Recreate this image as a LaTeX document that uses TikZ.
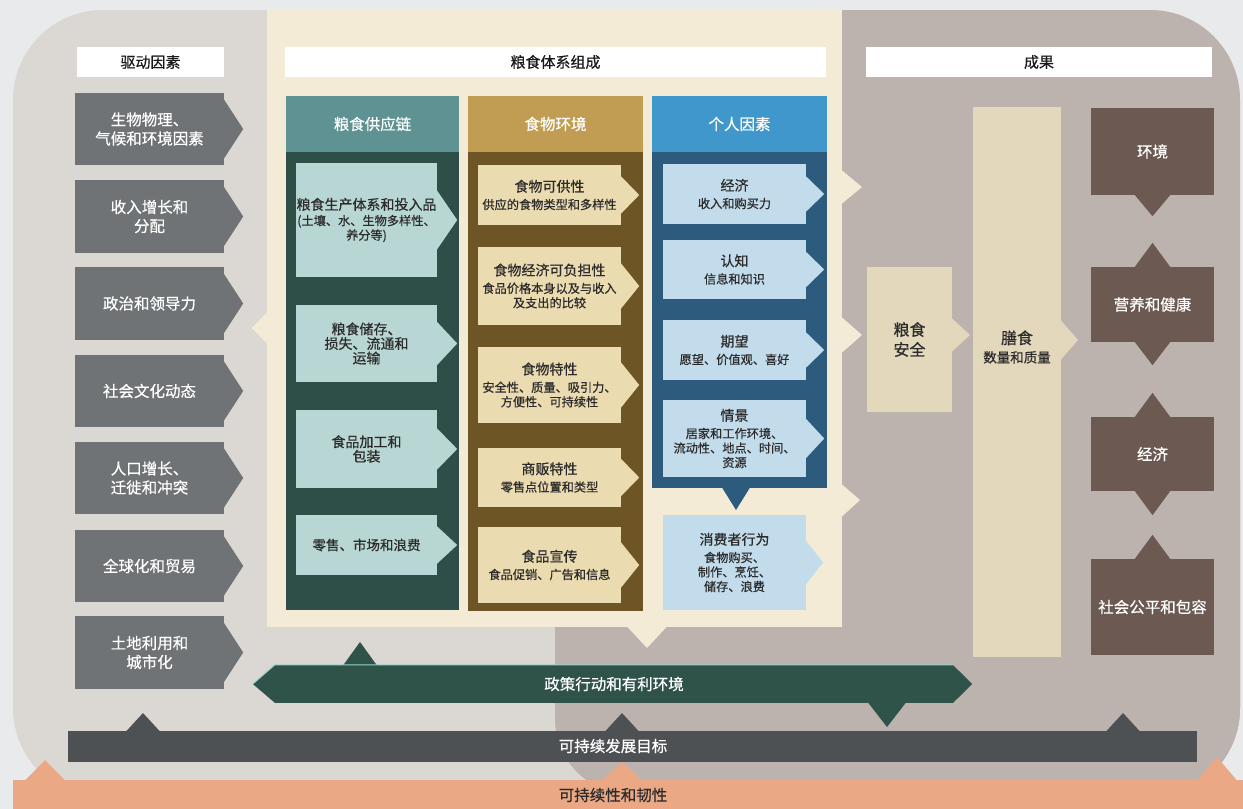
\documentclass[tikz,border=0pt]{standalone}
\usepackage{fontspec}
\setmainfont{Noto Sans CJK SC}[FakeBold=0.5]
\definecolor{cPage}{HTML}{E9EAEB}
\definecolor{cLeft}{HTML}{DBD8D3}
\definecolor{cCream}{HTML}{F3EBD6}
\definecolor{cRight}{HTML}{BCB3AF}
\definecolor{cDrv}{HTML}{6F7375}
\definecolor{cTealH}{HTML}{5F9292}
\definecolor{cTealB}{HTML}{2E4F48}
\definecolor{cTealS}{HTML}{B8D6D3}
\definecolor{cGoldH}{HTML}{C09D52}
\definecolor{cGoldB}{HTML}{6E5525}
\definecolor{cGoldS}{HTML}{EBDBB0}
\definecolor{cBlueH}{HTML}{3F97CB}
\definecolor{cBlueB}{HTML}{2D5B7E}
\definecolor{cBlueS}{HTML}{C3DCEC}
\definecolor{cBeige}{HTML}{E3D8BC}
\definecolor{cOut}{HTML}{6B5952}
\definecolor{cPol}{HTML}{2F5249}
\definecolor{cHl}{HTML}{9CCFCC}
\definecolor{cSdg}{HTML}{4D5154}
\definecolor{cOrg}{HTML}{EBA885}
\definecolor{cTxt}{HTML}{2B2B2B}
\newcommand\fsA{\fontsize{15.5}{19}\selectfont}
\newcommand\fsB{\fontsize{14}{16.5}\selectfont}
\newcommand\fsC{\fontsize{12.2}{14.5}\selectfont}
\newcommand\bx[7]{\node[#6, minimum width={#4pt-#2pt}, minimum height={#5pt-#3pt}] (#1) at ({(#2+#4)/2},{(#3+#5)/2}) {#7};}
\newcommand\chev[4]{\fill[#4] ([xshift=-0.5pt,yshift=#2pt]#1.east) -- ([xshift=#3pt]#1.east) -- ([xshift=-0.5pt,yshift=-#2pt]#1.east) -- cycle;}
\newcommand\triup[4]{\fill[#4] ([xshift=-#2pt,yshift=-0.5pt]#1.north) -- ([yshift=#3pt]#1.north) -- ([xshift=#2pt,yshift=-0.5pt]#1.north) -- cycle;}
\newcommand\tridn[4]{\fill[#4] ([xshift=-#2pt,yshift=0.5pt]#1.south) -- ([yshift=-#3pt]#1.south) -- ([xshift=#2pt,yshift=0.5pt]#1.south) -- cycle;}
\tikzset{
  drv/.style={fill=cDrv, text=white, font=\fsA, align=center, inner sep=0pt},
  hdr/.style={fill=white, text=black!90, font=\fontsize{15}{18}\selectfont, inner sep=0pt},
  colh/.style={text=white, font=\fsA, inner sep=0pt},
  panel/.style={inner sep=0pt},
  subbox/.style={text=cTxt, font=\fsC, align=center, inner sep=0pt},
  outbox/.style={fill=cOut, text=white, font=\fsA, align=center, inner sep=0pt},
  bandtxt/.style={text=white, font=\fsA, inner sep=0pt},
}
\begin{document}
\begin{tikzpicture}[x=1pt,y=-1pt]
\useasboundingbox (0,0) rectangle (1243,809);
\fill[cPage] (0,0) rectangle (1243,809);
% background regions
\fill[cLeft, rounded corners=90pt] (13,10) rectangle (1240,798);
\begin{scope}
\clip[rounded corners=90pt] (13,10) rectangle (1240,798);
\fill[cRight] (842,0) rectangle (1243,809);
\fill[cRight, rounded corners=75pt] (555,480) rectangle (1300,794);
\end{scope}
\bx{comp}{267}{10}{842}{627}{panel, fill=cCream}{}
\fill[cCream] (267.5,312) -- (252,328) -- (267.5,344) -- cycle;
\fill[cCream] (627,626.5) -- (647,648) -- (667,626.5) -- cycle;
\fill[cCream] (841.5,170) -- (862,187) -- (841.5,204) -- cycle;
\fill[cCream] (841.5,317) -- (862,335) -- (841.5,353) -- cycle;
\fill[cCream] (841.5,484) -- (860,500) -- (841.5,517) -- cycle;

% headers
\bx{hdrv}{77}{47}{224}{77}{hdr}{驱动因素}
\bx{hcomp}{285}{47}{826}{77}{hdr}{粮食体系组成}
\bx{hout}{866}{47}{1212}{77}{hdr}{成果}

% drivers
\bx{d1}{75}{93}{224}{165}{drv}{生物物理、\\气候和环境因素}
\bx{d2}{75}{180}{224}{253}{drv}{收入增长和\\分配}
\bx{d3}{75}{267}{224}{340}{drv}{政治和领导力}
\bx{d4}{75}{355}{224}{427}{drv}{社会文化动态}
\bx{d5}{75}{442}{224}{514}{drv}{人口增长、\\迁徙和冲突}
\bx{d6}{75}{530}{224}{602}{drv}{全球化和贸易}
\bx{d7}{75}{616}{224}{689}{drv}{土地利用和\\城市化}
\foreach \n in {d1,d2,d3,d4,d5,d6,d7}{\chev{\n}{30}{19}{cDrv}}

% column 1
\bx{c1h}{286}{96}{459}{152}{colh, fill=cTealH}{粮食供应链}
\bx{c1b}{286}{152}{459}{610}{panel, fill=cTealB}{}
\bx{s1a}{296}{163}{437}{277}{subbox, fill=cTealS}{{\fsB 粮食生产体系和投入品}\\[1pt](土壤、水、生物多样性、\\养分等)}
\bx{s1b}{296}{305}{437}{382}{subbox, fill=cTealS, font=\fontsize{14}{14.5}\selectfont}{粮食储存、\\损失、流通和\\运输}
\bx{s1c}{296}{410}{437}{488}{subbox, fill=cTealS, font=\fontsize{14}{14.5}\selectfont}{食品加工和\\包装}
\bx{s1d}{296}{515}{437}{575}{subbox, fill=cTealS, font=\fontsize{13.5}{16}\selectfont}{零售、市场和浪费}
\chev{s1a}{30}{20}{cTealS}
\chev{s1b}{22}{20}{cTealS}
\chev{s1c}{21}{20}{cTealS}
\chev{s1d}{19}{20}{cTealS}

% column 2
\bx{c2h}{468}{96}{643}{152}{colh, fill=cGoldH}{食物环境}
\bx{c2b}{468}{152}{643}{611}{panel, fill=cGoldB}{}
\bx{s2a}{478}{165}{621}{225}{subbox, fill=cGoldS}{{\fsB 食物可供性}\\[3pt]供应的食物类型和多样性}
\bx{s2b}{478}{247}{621}{325}{subbox, fill=cGoldS}{{\fsB 食物经济可负担性}\\[3pt]食品价格本身以及与收入\\及支出的比较}
\bx{s2c}{478}{347}{621}{423}{subbox, fill=cGoldS}{{\fsB 食物特性}\\[3pt]安全性、质量、吸引力、\\方便性、可持续性}
\bx{s2d}{478}{448}{621}{507}{subbox, fill=cGoldS}{{\fsB 商贩特性}\\[3pt]零售点位置和类型}
\bx{s2e}{478}{527}{621}{603}{subbox, fill=cGoldS}{{\fsB 食品宣传}\\[3pt]食品促销、广告和信息}
\chev{s2a}{19}{18}{cGoldS}
\chev{s2b}{23}{18}{cGoldS}
\chev{s2c}{23}{18}{cGoldS}
\chev{s2d}{19}{18}{cGoldS}
\chev{s2e}{23}{18}{cGoldS}

% column 3
\bx{c3h}{652}{96}{827}{152}{colh, fill=cBlueH}{个人因素}
\bx{c3b}{652}{152}{827}{488}{panel, fill=cBlueB}{}
\fill[cBlueB] (722,487.5) -- (736,510) -- (750,487.5) -- cycle;
\bx{s3a}{663}{164}{806}{224}{subbox, fill=cBlueS}{{\fsB 经济}\\[3pt]收入和购买力}
\bx{s3b}{663}{240}{806}{299}{subbox, fill=cBlueS}{{\fsB 认知}\\[3pt]信息和知识}
\bx{s3c}{663}{320}{806}{380}{subbox, fill=cBlueS}{{\fsB 期望}\\[3pt]愿望、价值观、喜好}
\bx{s3d}{663}{400}{806}{477}{subbox, fill=cBlueS}{{\fsB 情景}\\[3pt]居家和工作环境、\\流动性、地点、时间、\\资源}
\bx{s3e}{663}{515}{806}{610}{subbox, fill=cBlueS}{{\fsB 消费者行为}\\[3pt]食物购买、\\制作、烹饪、\\储存、浪费}
\chev{s3a}{18}{18}{cBlueS}
\chev{s3b}{18}{18}{cBlueS}
\chev{s3c}{18}{18}{cBlueS}
\chev{s3d}{20}{18}{cBlueS}
\chev{s3e}{22}{17}{cBlueS}

% food security and diet
\bx{fsec}{867}{267}{952}{412}{panel, fill=cBeige, text=cTxt, align=center, font=\fontsize{16}{20}\selectfont}{粮食\\安全}
\fill[cBeige] (951.5,318) -- (970,335) -- (951.5,352) -- cycle;
\bx{diet}{973}{107}{1061}{657}{panel, fill=cBeige}{}
\fill[cBeige] (1060.5,320) -- (1078,340) -- (1060.5,360) -- cycle;
\node[subbox] (diettxt) at (1017,347) {{\fontsize{16}{18}\selectfont 膳食}\\[4pt]{\fontsize{13.5}{16}\selectfont 数量和质量}};

% outcomes
\bx{o1}{1091}{108}{1214}{195}{outbox}{环境}
\bx{o2}{1091}{267}{1214}{342}{outbox}{营养和健康}
\bx{o3}{1091}{417}{1214}{491}{outbox}{经济}
\bx{o4}{1091}{559}{1214}{655}{outbox}{社会公平和包容}
\tridn{o1}{18}{21}{cOut}
\triup{o2}{18}{24}{cOut}
\tridn{o2}{18}{23}{cOut}
\triup{o3}{18}{24}{cOut}
\tridn{o3}{18}{24}{cOut}
\triup{o4}{18}{24}{cOut}

% policy band
\bx{policy}{275}{665}{953}{703}{panel, fill=cPol}{}
\fill[cPol] ([xshift=0.5pt]policy.north west) -- ([xshift=-22pt]policy.west) -- ([xshift=0.5pt]policy.south west) -- cycle;
\fill[cPol] ([xshift=-0.5pt]policy.north east) -- ([xshift=19pt]policy.east) -- ([xshift=-0.5pt]policy.south east) -- cycle;
\fill[cPol] (343,665.5) -- (360,642) -- (377,665.5) -- cycle;
\fill[cPol] (868,702.5) -- (887,727) -- (906,702.5) -- cycle;
\draw[cHl, line width=1pt] ([xshift=-22pt]policy.west) -- (policy.north west) -- (policy.north east);
\node[bandtxt] (poltxt) at (614,684) {政策行动和有利环境};

% SDG band
\bx{sdg}{68}{731}{1197}{762}{panel, fill=cSdg}{}
\fill[cSdg] (126,731.5) -- (143,713) -- (160,731.5) -- cycle;
\fill[cSdg] (605,731.5) -- (622,713) -- (639,731.5) -- cycle;
\fill[cSdg] (1106,731.5) -- (1123,713) -- (1140,731.5) -- cycle;
\node[bandtxt] (sdgtxt) at (613,746) {可持续发展目标};

% sustainability band
\bx{sust}{13}{780}{1243}{809}{panel, fill=cOrg}{}
\fill[cOrg] (25,780.5) -- (45,760) -- (65,780.5) -- cycle;
\fill[cOrg] (602,780.5) -- (622,762) -- (642,780.5) -- cycle;
\fill[cOrg] (1197,780.5) -- (1217,757) -- (1237,780.5) -- cycle;
\node[bandtxt, text=cTxt] (susttxt) at (613,795) {可持续性和韧性};
\end{tikzpicture}
\end{document}
